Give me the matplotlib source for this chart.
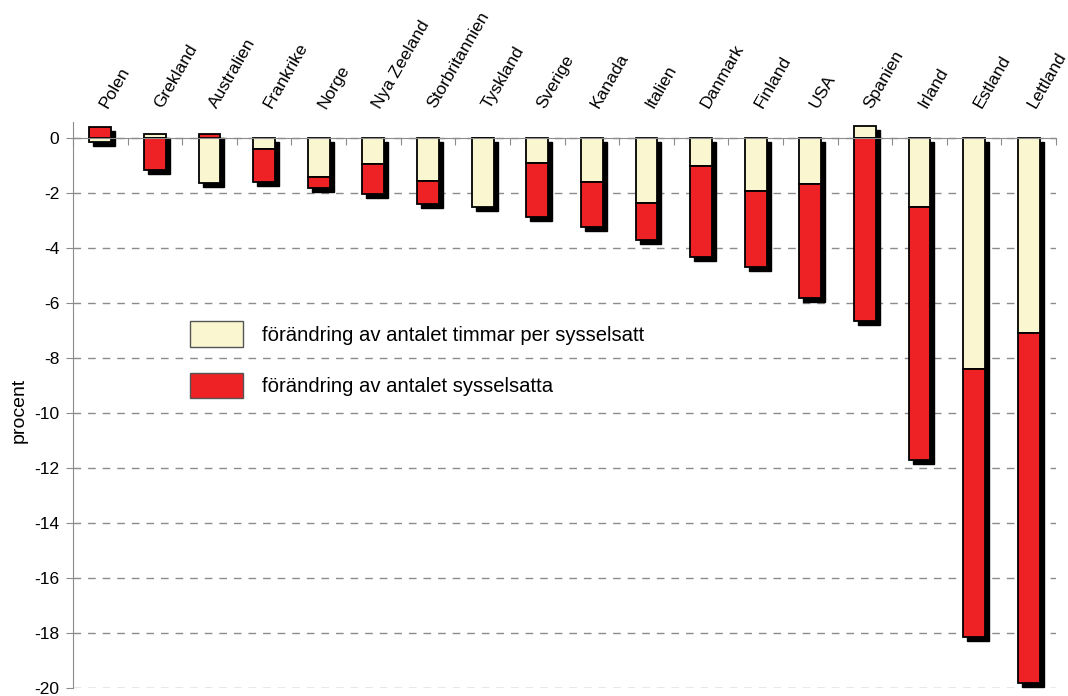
import numpy as np
import matplotlib
matplotlib.use("Agg")
import matplotlib.pyplot as plt
from matplotlib.transforms import ScaledTranslation
from matplotlib.patches import Patch

plt.rcParams['font.family'] = ['Liberation Sans', 'DejaVu Sans']
plt.rcParams['axes.unicode_minus'] = False

lander = ["Polen", "Grekland", "Australien", "Frankrike", "Norge", "Nya Zeeland",
          "Storbritannien", "Tyskland", "Sverige", "Kanada", "Italien", "Danmark",
          "Finland", "USA", "Spanien", "Irland", "Estland", "Lettland"]
timmar = np.array([-0.15, 0.15, -1.63, -0.4, -1.4, -0.95, -1.55, -2.5, -0.88, -1.6,
                   -2.35, -1.0, -1.9, -1.65, 0.44, -2.5, -8.4, -7.07])
sysselsatta = np.array([0.4, -1.15, 0.17, -1.2, -0.42, -1.08, -0.85, 0.0, -2.0, -1.62,
                        -1.36, -3.32, -2.8, -4.17, -6.65, -9.2, -9.75, -12.77])
yticks = np.arange(0, -21, -2)

gul = "#faf7d0"
rod = "#ee2224"
gra = "#8c8c8c"

fig = plt.figure(figsize=(10.68, 6.96), dpi=100)
ax = fig.add_axes([0.0684, 0.0119, 0.9204, 0.813])

x = np.arange(len(lander))
bredd = 0.4

# stapling: negativa delar läggs under varandra, positiva från noll
rod_botten = np.where((timmar < 0) & (sysselsatta < 0), timmar, 0)
lag = np.minimum(0, np.minimum(timmar, 0) + np.minimum(sysselsatta, 0))
hog = np.maximum(timmar, 0) + np.maximum(sysselsatta, 0)

skugga = ax.transData + ScaledTranslation(0.04, -0.04, fig.dpi_scale_trans)
ax.bar(x, hog - lag, bredd, bottom=lag, color="black", edgecolor="black",
       linewidth=1, transform=skugga, zorder=2, clip_on=False)
ax.bar(x, timmar, bredd, bottom=0, color=gul, edgecolor="black",
       linewidth=1.3, zorder=3, clip_on=False)
ax.bar(x, sysselsatta, bredd, bottom=rod_botten, color=rod, edgecolor="black",
       linewidth=1.3, zorder=3, clip_on=False)

ax.set_xlim(-0.5, len(lander) - 0.5)
ax.set_ylim(-20, 0.6)

for s in ["top", "right"]:
    ax.spines[s].set_visible(False)
ax.spines["bottom"].set_position(("data", 0))
ax.spines["bottom"].set_color(gra)
ax.spines["left"].set_color(gra)
ax.spines["bottom"].set_zorder(4)

ax.set_xticks(np.arange(len(lander) + 1) - 0.5)
ax.tick_params(axis="x", length=5, color=gra, labelbottom=False)
ax.set_yticks(yticks)
ax.set_yticklabels([str(v) for v in yticks])
ax.tick_params(axis="y", length=5, color=gra, labelsize=12.5, pad=5)

ax.yaxis.grid(True, color=gra, linestyle=(0, (5.5, 5)), linewidth=1)
ax.set_axisbelow(True)

for i, namn in enumerate(lander):
    ax.annotate(namn, xy=(i, 1), xycoords=("data", "axes fraction"),
                xytext=(7, 8), textcoords="offset points", rotation=60,
                ha="left", va="bottom", rotation_mode="anchor", fontsize=12.5)

ax.set_ylabel("procent", fontsize=14)
ax.yaxis.set_label_coords(-0.046, 0.49)

handtag = [Patch(facecolor=gul, edgecolor="#555555", linewidth=1),
           Patch(facecolor=rod, edgecolor="#555555", linewidth=1)]
ax.legend(handtag, ["förändring av antalet timmar per sysselsatt",
                    "förändring av antalet sysselsatta"],
          loc="upper left", bbox_to_anchor=(0.119, 0.648), frameon=False,
          fontsize=14.6, handlelength=2.62, handleheight=1.59, handletextpad=0.94,
          labelspacing=1.26, borderpad=0, borderaxespad=0)

fig.savefig("out.png", dpi=100)
